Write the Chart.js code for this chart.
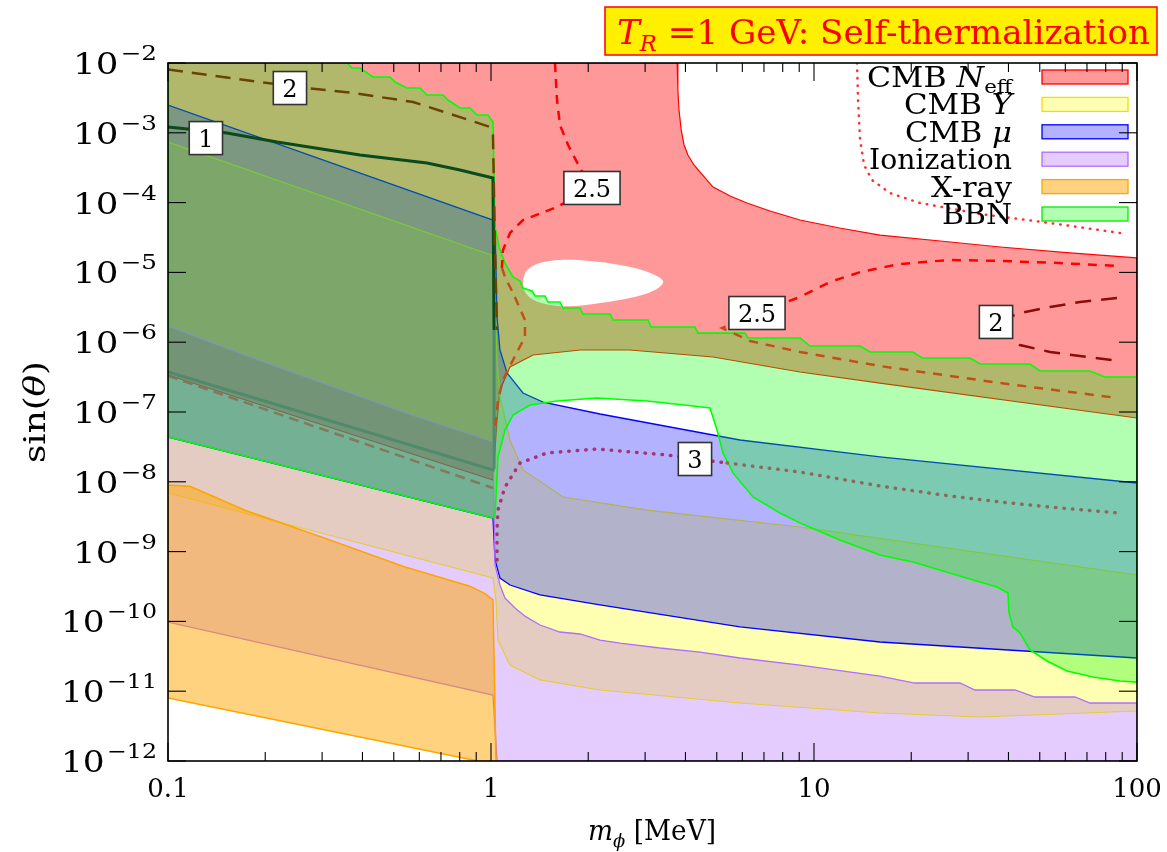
<!DOCTYPE html>
<html>
<head>
<meta charset="utf-8">
<script src="https://cdn.jsdelivr.net/npm/chart.js@4.4.1/dist/chart.umd.min.js"></script>
<style>
  body { margin: 0; background: #fff; }
  canvas { display: block; }
</style>
</head>
<body>
<canvas id="chart" width="1167" height="852"></canvas>
<script>
// boundaries of the excluded regions, as [m_phi in MeV, sin(theta)] pairs
const neffArea = [[0.1,1e-2],[3.77,1e-2],[3.79,4.1e-3],[3.82,2.12e-3],[3.88,1.1e-3],[3.96,6.69e-4],[4.07,4.81e-4],[4.25,3.46e-4],[4.44,2.74e-4],[4.87,1.67e-4],[5.5,1.24e-4],[6.2,9.87e-5],[7.31,7.58e-5],[9.05,5.63e-5],[12.0,4.33e-5],[16.0,3.43e-5],[24.6,2.82e-5],[37.7,2.31e-5],[62,1.9e-5],[100,1.61e-5],
  [100,8.2e-8],[16.0,2.6e-7],[9.05,3.74e-7],[4.87,6.14e-7],[2.69,7.73e-7],[1.89,7.73e-7],[1.35,6.56e-7],[1.145,4.41e-7],[1.066,2.07e-7],[1.044,7.68e-8],[1.014,1.06e-8],[0.1,3.39e-7],[0.1,1e-2]];
const neffHole = [[1.256,7.78e-6],[1.293,1.08e-5],[1.418,1.36e-5],[1.635,1.51e-5],[2.025,1.46e-5],[2.508,1.28e-5],[2.998,1.05e-5],[3.409,7.53e-6],[3.219,5.6e-6],[2.694,4.3e-6],[2.175,3.64e-6],[1.82,3.3e-6],[1.523,3.41e-6],[1.34,4.16e-6],[1.265,5.6e-6],[1.256,7.78e-6]];
const cmbYArea = [[0.1,7.38e-4],[1.0,1.78e-5],[1.029,4.02e-6],[1.044,5.56e-7],[1.066,1.64e-7],[1.145,3.97e-8],[1.256,1.48e-8],[1.671,6.06e-9],[3.041,3.94e-9],[9.05,2.25e-9],[100,4.62e-10],
  [100,5.2e-12],[32.7,4.27e-12],[16.0,4.87e-12],[5.9,6.78e-12],[2.175,1.04e-11],[1.418,1.45e-11],[1.145,2.37e-11],[1.051,5.41e-11],[1.036,2.03e-10],[1.014,4.18e-10],[0.1,6.91e-9],[0.1,7.38e-4]];
const cmbMuArea = [[0.1,2.5e-3],[1.014,5.63e-5],[1.029,5.27e-5],[1.044,2.3e-6],[1.066,7.73e-7],[1.121,3.62e-7],[1.256,1.87e-7],[1.449,1.39e-7],[2.175,9.36e-8],[5.9,3.97e-8],[16.0,2.27e-8],[100,9.61e-9],
  [100,2.99e-11],[16.0,5.07e-11],[5.9,8.32e-11],[2.175,1.72e-10],[1.418,2.39e-10],[1.145,3.32e-10],[1.066,4.18e-10],[1.029,7.58e-10],[1.014,3.03e-9],[0.1,4.38e-8],[0.1,2.5e-3]];
const ionArea = [[0.1,1.71e-6],[0.1769,6.3e-7],[0.3129,2.45e-7],[0.5534,9.5e-8],[0.9788,3.97e-8],[1.014,3.72e-8],
  [1.029,6.43e-10],[1.066,3.32e-10],[1.105,2.16e-10],[1.187,1.56e-10],[1.274,1.19e-10],[1.418,8.88e-11],[1.635,7.05e-11],[1.886,6.6e-11],[2.175,5.41e-11],[2.508,4.9e-11],[3.337,4.16e-11],[4.437,3.64e-11],[5.9,2.99e-11],[9.05,2.37e-11],[16.0,1.65e-11],[20.5,1.31e-11],[28.3,1.31e-11],[31.5,1.04e-11],[41.9,1.04e-11],[48.3,8.26e-12],[64.3,8.26e-12],[71.5,6.78e-12],[100,6.78e-12],
  [100,1e-12],[1.044,1e-12],[1.014,8.82e-12],[0.1,9.8e-11],[0.1,1.71e-6]];
const xrayArea = [[0.1,9.0e-9],[0.117,8.6e-9],[0.1731,3.9e-9],[0.3062,1.55e-9],[0.5418,6.0e-10],[0.861,3.2e-10],[0.9581,2.5e-10],[1.014,2.03e-10],
  [1.036,1e-12],[0.912,1e-12],[0.1,7.99e-12],[0.1,9.0e-9]];
const bbnArea = [[0.1,1e-2],[0.358,1e-2],[0.3714,8.48e-3],[0.3931,8.48e-3],[0.4312,6.3e-3],[0.4867,6.3e-3],[0.5044,5.34e-3],[0.5495,4.38e-3],[0.6031,4.38e-3],[0.6337,3.48e-3],[0.7103,3.48e-3],[0.7359,2.95e-3],[0.8017,2.27e-3],[0.861,2.27e-3],[0.905,1.8e-3],[0.9788,1.8e-3],[1.014,1.43e-3],
  [1.029,4.47e-5],[1.066,2.09e-5],[1.105,1.36e-5],[1.17,8.59e-6],[1.23,7.53e-6],[1.256,5.98e-6],[1.34,5.41e-6],[1.369,4.59e-6],[1.47,4.59e-6],[1.501,3.77e-6],[1.635,3.77e-6],[1.671,3.09e-6],[1.886,3.09e-6],[1.927,2.53e-6],[2.336,2.53e-6],[2.387,2.08e-6],[3.063,2.08e-6],[3.129,1.65e-6],[4.281,1.65e-6],[4.374,1.35e-6],[6.115,1.35e-6],[6.248,1.15e-6],[9.05,1.15e-6],[9.72,8.82e-7],[13.89,8.82e-7],[14.91,7.24e-7],[20.25,7.24e-7],[21.6,5.94e-7],[30.41,5.94e-7],[32.66,4.87e-7],[46.65,4.87e-7],[50.08,3.87e-7],[71.52,3.87e-7],[79.6,3.17e-7],[100,3.17e-7],
  [100,1.35e-11],[88.6,1.4e-11],[73.08,1.6e-11],[60.71,1.95e-11],[52.65,2.71e-11],[46.65,3.89e-11],[43.43,6.82e-11],[41.31,8.32e-11],[40.16,1.32e-10],[39.87,2.55e-10],[36.87,3.11e-10],[28.93,4.33e-10],[20.25,7.1e-10],[16.0,8.94e-10],[12.04,1.47e-9],[9.05,2.57e-9],[7.847,3.57e-9],[6.474,6.06e-9],[5.613,1.34e-8],[5.228,2.59e-8],[5.01,5.52e-8],[4.764,1.14e-7],[4.221,1.22e-7],[3.041,1.44e-7],[2.129,1.59e-7],[1.601,1.44e-7],[1.32,1.26e-7],[1.17,9.06e-8],[1.105,5.52e-8],[1.051,2.27e-8],[1.029,3.13e-9],[1.014,3.03e-9],[0.1,4.38e-8],[0.1,1e-2]];

// contour lines
const c1Upper = [[0.1,1.21e-3],[0.1523,9.93e-4],[0.2176,7.38e-4],[0.3931,4.81e-4],[0.6337,3.69e-4],[0.8017,2.93e-4],[1.014,2.25e-4],[1.022,1.5e-6]];
const c1Lower = [[1.022,1.5e-6],[1.022,1.58e-8],[1.014,1.48e-8],[0.1,3.74e-7]];
const c2Left = [[0.1,8.1e-3],[0.1927,5.34e-3],[0.2693,4.38e-3],[0.3739,3.72e-3],[0.5735,2.76e-3],[0.8017,1.68e-3],[0.993,1.21e-3],[1.014,9.3e-4],[1.029,2.09e-5],[1.044,1.5e-6]];
const c2LeftLow = [[0.1,3.3e-7],[1.014,8.15e-9]];
const c2Right = [[86.7,4.3e-6],[66.6,3.77e-6],[53.8,3.19e-6],[43.4,2.62e-6],[36.6,1.95e-6],[43.4,9.12e-7],[53.8,7.24e-7],[66.6,6.34e-7],[88.6,5.38e-7]];
const c25Upper = [[1.578,1e-2],[1.601,2.95e-3],[1.635,1.29e-3],[1.732,6.69e-4],[1.886,3.13e-4],[2.054,1.62e-4],[1.601,8.65e-5],[1.256,5.63e-5],[1.145,3.67e-5],[1.089,2.09e-5],[1.081,1.16e-5]];
const c25Mid = [[1.081,1.16e-5],[1.105,8.59e-6],[1.17,5.07e-6],[1.274,2.08e-6],[1.274,1.19e-6],[1.17,5.56e-7],[1.089,2.87e-7],[1.051,1.49e-7],[1.029,5.52e-8]];
const c25RightUp = [[6.66,2.62e-6],[9.05,4.44e-6],[11.2,7.29e-6],[13.89,1.01e-5],[18.46,1.32e-5],[26.37,1.51e-5],[37.67,1.46e-5],[57.75,1.36e-5],[88.6,1.23e-5]];
const c25RightLow = [[6.66,2.62e-6],[5.19,1.6e-6],[6.338,1.04e-6],[9.05,7.24e-7],[16.0,4.56e-7],[37.67,2.6e-7],[86.7,1.59e-7]];
const c3Main = [[1.044,7.58e-10],[1.044,2.04e-9],[1.051,3.94e-9],[1.105,8.42e-9],[1.23,1.86e-8],[1.491,2.59e-8],[2.129,2.95e-8],[3.507,2.42e-8],[4.281,2.12e-8],[5.38,1.86e-8]];
const c3Right = [[5.38,1.86e-8],[9.05,1.38e-8],[16.0,8.71e-9],[26.37,6.26e-9],[37.67,5.14e-9],[57.75,4.21e-9],[88.6,3.57e-9]];
const neffDotted = [[13.59,1e-2],[13.69,2.95e-3],[13.89,7.88e-4],[14.29,3.46e-4],[15.12,2.11e-4],[17.19,1.37e-4],[21.29,9.87e-5],[32.66,6.87e-5],[53.8,5.1e-5],[88.6,3.67e-5]];

// contour labels
const labelText = ['1', '2', '2.5', '2.5', '3', '2'];
const labelMass = [0.131, 0.2385, 2.054, 6.66, 4.28, 36.6];
const labelSin = [8.4e-4, 4.38e-3, 1.62e-4, 2.62e-6, 2.12e-8, 1.95e-6];

// legend
const legendNames = ['CMB Neff', 'CMB Y', 'CMB mu', 'Ionization', 'X-ray', 'BBN'];
const legendFill = ['rgba(255,0,0,0.4)', 'rgba(255,255,0,0.3)', 'rgba(0,0,255,0.3)', 'rgba(127,0,255,0.2)', 'rgba(255,165,0,0.5)', 'rgba(0,255,0,0.3)'];
const legendLine = ['#ff0000', '#f0e000', '#0000ff', 'rgb(175,110,255)', '#ffa500', '#00ee00'];

// axes
const xTickValues = [0.1, 1, 10, 100];
const xTickText = ['0.1', '1', '10', '100'];
const xMinorTicks = [0.2, 0.3, 0.4, 0.5, 0.6, 0.7, 0.8, 0.9, 2, 3, 4, 5, 6, 7, 8, 9, 20, 30, 40, 50, 60, 70, 80, 90];
const yTickExp = [-2, -3, -4, -5, -6, -7, -8, -9, -10, -11, -12];

const FONT = '"DejaVu Serif", serif';
function f(size, italic) { return (italic ? 'italic ' : '') + size + 'px ' + FONT; }

function pts(list) { return list.map(([x, y]) => ({x: x, y: y})); }

function area(list, fill, line, width, tension) {
  return { data: pts(list), fill: 'shape', backgroundColor: fill, borderColor: line,
    borderWidth: width, pointRadius: 0, tension: tension || 0 };
}
function contour(list, color, dash, width, cap) {
  return { data: pts(list), fill: false, borderColor: color, borderWidth: width,
    borderDash: dash, borderCapStyle: cap || 'butt', pointRadius: 0, tension: 0 };
}

// bottom layer first
const layers = [
  area(neffArea, legendFill[0], '#ff0000', 1.2),
  area(neffHole, '#ffffff', 'rgba(0,0,0,0)', 0, 0.35),
  area(cmbYArea, legendFill[1], '#ffff00', 1.2),
  area(cmbMuArea, legendFill[2], '#0000ff', 1.3),
  area(ionArea, legendFill[3], 'rgb(175,110,255)', 1.3),
  area(xrayArea, legendFill[4], '#ffa500', 1.6),
  area(bbnArea, legendFill[5], '#00ff00', 1.6),
  contour(c2LeftLow, 'rgba(135,115,85,0.9)', [10, 6], 2.5),
  contour(c1Lower, '#4f8a6a', [], 3),
  contour(c1Upper, '#0b4a1c', [], 3),
  contour(c2Left, '#6b4300', [15, 9], 2.5),
  contour(c2Right, '#8b0a0a', [16, 10], 2.5),
  contour(c25Upper, '#ff0000', [9, 7], 2.5),
  contour(c25Mid, '#c0501a', [9, 7], 2.5),
  contour(c25RightUp, '#ff0000', [9, 8], 2.5),
  contour(c25RightLow, '#c0501a', [9, 8], 2.5),
  contour(c3Main, '#a8346e', [0.5, 8], 3.5, 'round'),
  contour(c3Right, '#8a6a5c', [0.5, 8], 3.5, 'round'),
  contour(neffDotted, '#ff3030', [0.5, 7], 2.5, 'round')
];
layers.forEach((d, i) => { d.order = layers.length - i; });

function drawRuns(ctx, parts, x, y, align, width) {
  let total = 0;
  parts.forEach(p => { ctx.font = p.font; p.w = ctx.measureText(p.text).width; total += p.w; });
  const sx = width ? width / total : 1;
  const start = align === 'right' ? x - total * sx : align === 'center' ? x - total * sx / 2 : x;
  ctx.save();
  ctx.translate(start, y);
  ctx.scale(sx, 1);
  ctx.textAlign = 'left';
  ctx.textBaseline = 'alphabetic';
  let cx = 0;
  parts.forEach(p => { ctx.font = p.font; ctx.fillText(p.text, cx, p.dy || 0); cx += p.w; });
  ctx.restore();
}

function seg(ctx, x1, y1, x2, y2) {
  ctx.beginPath(); ctx.moveTo(x1, y1); ctx.lineTo(x2, y2); ctx.stroke();
}

const legendParts = {
  'CMB Neff': [{text: 'CMB ', font: f(28)}, {text: 'N', font: f(28, true)}, {text: 'eff', font: f(19), dy: 6}],
  'CMB Y': [{text: 'CMB ', font: f(28)}, {text: 'Y', font: f(28, true)}],
  'CMB mu': [{text: 'CMB ', font: f(28)}, {text: 'μ', font: f(28, true)}],
  'Ionization': [{text: 'Ionization', font: f(28)}],
  'X-ray': [{text: 'X-ray', font: f(28)}],
  'BBN': [{text: 'BBN', font: f(28)}]
};
const legendWidths = [145, 108, 107, 143, 81, 70];

const overlay = {
  id: 'overlay',
  afterDraw(chart) {
    const ctx = chart.ctx;
    const a = chart.chartArea;
    const xs = chart.scales.x;
    const ys = chart.scales.y;
    ctx.save();

    // contour labels
    ctx.font = f(24);
    labelText.forEach((t, i) => {
      const cx = xs.getPixelForValue(labelMass[i]);
      const cy = ys.getPixelForValue(labelSin[i]);
      const w = ctx.measureText(t).width + 18;
      const h = 33;
      ctx.fillStyle = '#fff';
      ctx.fillRect(cx - w / 2, cy - h / 2, w, h);
      ctx.strokeStyle = '#333';
      ctx.lineWidth = 1.6;
      ctx.strokeRect(cx - w / 2, cy - h / 2, w, h);
      ctx.fillStyle = '#000';
      ctx.textAlign = 'center';
      ctx.textBaseline = 'alphabetic';
      ctx.fillText(t, cx, cy + 9);
    });

    // legend
    legendNames.forEach((name, i) => {
      const cy = 77 + i * 27.4;
      ctx.fillStyle = '#000';
      drawRuns(ctx, legendParts[name], 1012, cy + 10, 'right', legendWidths[i]);
      ctx.fillStyle = '#fff';
      ctx.fillRect(1042, cy - 7, 86, 14);
      ctx.fillStyle = legendFill[i];
      ctx.fillRect(1042, cy - 7, 86, 14);
      ctx.strokeStyle = legendLine[i];
      ctx.lineWidth = 1.3;
      ctx.strokeRect(1042, cy - 7, 86, 14);
    });

    // frame and ticks
    ctx.strokeStyle = '#000';
    ctx.lineWidth = 1.6;
    ctx.strokeRect(a.left, a.top, a.right - a.left, a.bottom - a.top);
    ctx.lineWidth = 1.1;
    xTickValues.forEach(v => {
      const px = xs.getPixelForValue(v);
      seg(ctx, px, a.bottom, px, a.bottom - 18);
      seg(ctx, px, a.top, px, a.top + 18);
    });
    xMinorTicks.forEach(v => {
      const px = xs.getPixelForValue(v);
      seg(ctx, px, a.bottom, px, a.bottom - 9);
      seg(ctx, px, a.top, px, a.top + 9);
    });
    yTickExp.forEach(e => {
      const py = ys.getPixelForValue(Math.pow(10, e));
      seg(ctx, a.left, py, a.left + 18, py);
      seg(ctx, a.right, py, a.right - 18, py);
    });

    // tick labels
    ctx.fillStyle = '#000';
    yTickExp.forEach(e => {
      const py = ys.getPixelForValue(Math.pow(10, e));
      const parts = [{text: '10', font: f(29)}, {text: ' ', font: f(6)}, {text: '−' + (-e), font: f(20), dy: -14}];
      drawRuns(ctx, parts, 157, py + 11, 'right', e > -10 ? 84 : 96);
    });
    ctx.font = f(26);
    ctx.textAlign = 'center';
    ctx.textBaseline = 'alphabetic';
    xTickValues.forEach((v, i) => {
      ctx.fillText(xTickText[i], xs.getPixelForValue(v), 797);
    });

    // axis titles
    drawRuns(ctx, [{text: 'm', font: f(28, true)}, {text: 'ϕ', font: f(19, true), dy: 7}, {text: ' [MeV]', font: f(28)}], 652, 840, 'center', 128);
    ctx.save();
    ctx.translate(45, 412);
    ctx.rotate(-Math.PI / 2);
    drawRuns(ctx, [{text: 'sin(', font: f(29)}, {text: 'θ', font: f(29, true)}, {text: ')', font: f(29)}], 0, 0, 'center', 102);
    ctx.restore();

    // title box
    ctx.fillStyle = '#fff000';
    ctx.fillRect(605, 7, 552, 48);
    ctx.strokeStyle = '#ff0000';
    ctx.lineWidth = 1.5;
    ctx.strokeRect(605, 7, 552, 48);
    ctx.fillStyle = '#ff0000';
    drawRuns(ctx, [{text: 'T', font: f(33, true)}, {text: 'R', font: f(22, true), dy: 7}, {text: ' =1 GeV: Self-thermalization', font: f(33)}], 617, 44, 'left', 533);

    ctx.restore();
  }
};

function chartConfig() {
  const canvas = document.querySelector('#chart');
  const config = {
    type: 'line',
    data: { datasets: layers },
    options: {
      responsive: false,
      devicePixelRatio: 1,
      animation: false,
      events: [],
      layout: { padding: { left: 168, right: 30, top: 63, bottom: 91 } },
      scales: {
        x: { type: 'logarithmic', min: 0.1, max: 100, display: false },
        y: { type: 'logarithmic', min: 1e-12, max: 1e-2, display: false }
      },
      plugins: {
        legend: { display: false },
        tooltip: { enabled: false }
      }
    },
    plugins: [overlay]
  };
  new Chart(canvas, config);
}

chartConfig();
</script>
</body>
</html>
